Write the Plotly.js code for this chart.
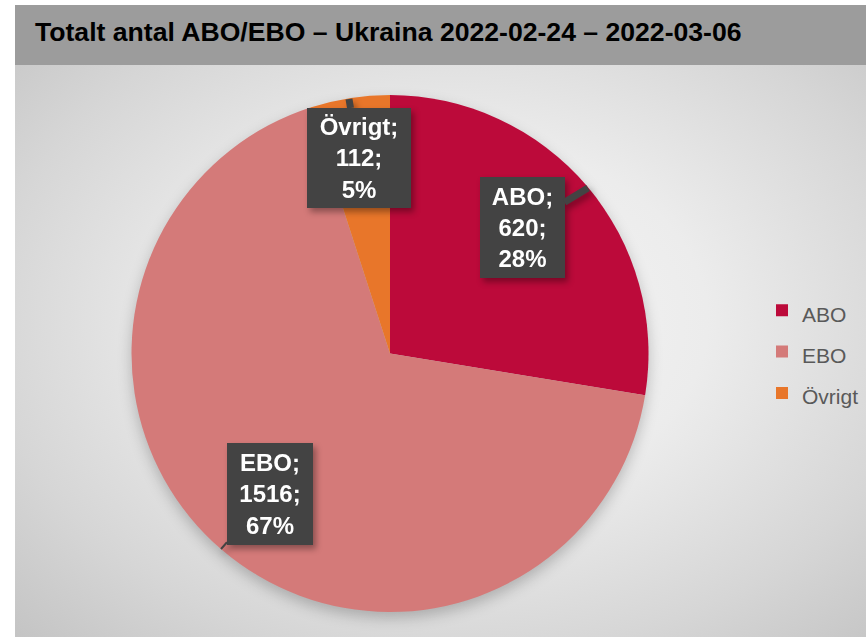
<!DOCTYPE html>
<html>
<head>
<meta charset="utf-8">
<script src="https://cdn.plot.ly/plotly-3.0.1.min.js"></script>
<style>
  html, body { margin: 0; padding: 0; background: #ffffff; }
  #wrap { position: relative; width: 866px; height: 637px; }
  #bg { position: absolute; left: 15px; top: 5px; width: 851px; height: 632px;
        background: radial-gradient(ellipse farthest-corner at 52% 50%, #f6f6f6 0%, #ececec 40%, #d6d6d6 75%, #c4c4c4 100%); }
  #chart { position: absolute; left: 0; top: 0; width: 866px; height: 637px; }
  #chart .pielayer { filter: drop-shadow(0px 6px 7px rgba(0,0,0,0.22)); }
  #chart .annotation { filter: drop-shadow(3px 4px 3px rgba(0,0,0,0.35)); }
</style>
</head>
<body>
<div id="wrap"><div id="bg"></div><div id="chart"></div></div>
<script>
// Data
const categories = ["ABO", "EBO", "Övrigt"];
const counts = [620, 1516, 112];
const percentLabels = ["28%", "67%", "5%"];
const sliceColors = ["#BC0A3A", "#D47A79", "#E8762A"];
const titleText = "Totalt antal ABO/EBO – Ukraina 2022-02-24 – 2022-03-06";

const W = 866, H = 637;
const px = v => v / W;
const py = v => 1 - v / H;

// label callouts: [tip x, tip y, box center x, box center y, box w, box h, arrow width]
const callouts = [
  [588, 188, 522, 228, 85, 101, 7],
  [221, 549, 270, 494, 86, 102, 2],
  [349, 99, 359, 158, 104, 100, 7]
];

const legendTextSize = 21;

const trace = {
  type: "pie",
  labels: categories.map(c => '<span style="font-size:' + legendTextSize + 'px">' + c + '</span>'),
  values: counts,
  sort: false,
  direction: "clockwise",
  rotation: 0,
  textinfo: "none",
  hoverinfo: "label+value+percent",
  marker: { colors: sliceColors, line: { width: 0 } },
  domain: { x: [px(131), px(649)], y: [py(612), py(95)] },
  showlegend: true
};

const annotations = categories.map((c, i) => {
  const k = callouts[i];
  return {
    xref: "paper", yref: "paper",
    x: px(k[0]), y: py(k[1]),
    ax: k[2] - k[0], ay: k[3] - k[1],
    showarrow: true, arrowhead: 0, arrowwidth: k[6], arrowcolor: "#434343",
    standoff: 0, startstandoff: 0,
    text: c + ";<br>" + counts[i] + ";<br>" + percentLabels[i],
    font: { family: "Liberation Sans, Arial, sans-serif", size: 24, color: "#ffffff", weight: "bold" },
    align: "center", valign: "middle",
    bgcolor: "#434343", borderpad: 0, borderwidth: 0,
    width: k[4], height: k[5]
  };
});

const layout = {
  width: W, height: H,
  margin: { l: 0, r: 0, t: 0, b: 0 },
  paper_bgcolor: "rgba(0,0,0,0)",
  plot_bgcolor: "rgba(0,0,0,0)",
  title: {
    text: "<b>" + titleText + "</b>",
    xref: "paper", yref: "paper",
    x: px(35), xanchor: "left",
    y: py(32), yanchor: "middle",
    font: { family: "Liberation Sans, Arial, sans-serif", size: 26.6, color: "#000000" }
  },
  shapes: [{
    type: "rect", xref: "paper", yref: "paper", layer: "below",
    x0: px(15), x1: 1, y0: py(65), y1: py(5),
    fillcolor: "#9c9c9c", line: { width: 0 }
  }],
  legend: {
    x: px(762), xanchor: "left",
    y: py(352), yanchor: "middle",
    bgcolor: "rgba(0,0,0,0)",
    font: { family: "Liberation Sans, Arial, sans-serif", size: 29.5, color: "#595959" },
    itemclick: false
  },
  annotations: annotations
};

Plotly.newPlot("chart", [trace], layout, { displayModeBar: false, staticPlot: true });
</script>
</body>
</html>
